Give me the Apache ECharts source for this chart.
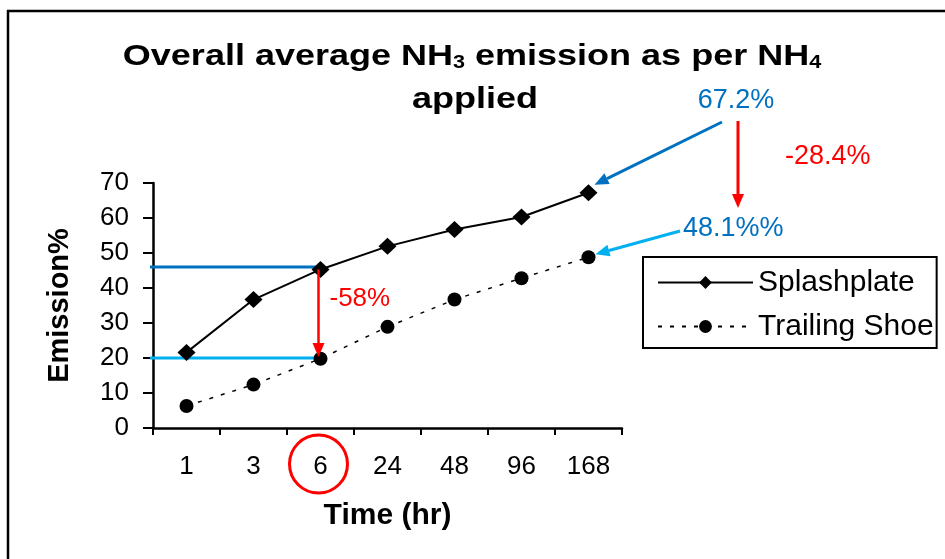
<!DOCTYPE html>
<html>
<head>
<meta charset="utf-8">
<script src="https://cdn.jsdelivr.net/npm/echarts@6/dist/echarts.min.js"></script>
<style>html,body{margin:0;padding:0;background:#fff}#c{width:945px;height:559px}</style>
</head>
<body>
<div id="c"></div>
<script>
// ---- data ----
const categories = ['1', '3', '6', '24', '48', '96', '168'];
const splashplate = [21.6, 36.7, 45.3, 51.9, 56.7, 60.3, 67.2];
const trailingShoe = [6.3, 12.4, 19.8, 28.9, 36.7, 42.8, 48.8];
const yMin = 0, yMax = 70, yStep = 10;
const refSplash = 46;      // dark blue reference level
const refTrailing = 20;    // light blue reference level
const focusIndex = 2;      // the "6" hr category
const labelFocusDiff = '-58%';
const labelSplashEnd = '67.2%';
const labelTrailingEnd = '48.1%%';
const labelEndDiff = '-28.4%';
const titleLine1 = '{b|Overall average NH}{s|3}{b| emission as per NH}{s|4}';
const titleLine2 = 'applied';

const FONT = 'Liberation Sans, Arial, sans-serif';
const chart = echarts.init(document.getElementById('c'));

chart.setOption({
  backgroundColor: '#fff',
  animation: false,
  grid: { left: 153, right: 323, top: 183, bottom: 131 },
  legend: {
    orient: 'vertical',
    left: 643, top: 257,
    padding: [10, 3, 6, 14],
    itemGap: 13,
    itemWidth: 95, itemHeight: 16,
    borderColor: '#000', borderWidth: 2, borderRadius: 0,
    textStyle: { fontFamily: FONT, fontSize: 30, color: '#000', lineHeight: 31 },
    data: ['Splashplate', 'Trailing Shoe']
  },
  xAxis: {
    type: 'category',
    data: categories,
    boundaryGap: true,
    name: 'Time (hr)',
    nameLocation: 'middle',
    nameGap: 73,
    nameTextStyle: { fontFamily: FONT, fontSize: 30, fontWeight: 'bold', color: '#000' },
    axisLine: { lineStyle: { color: '#000', width: 2.5 } },
    axisTick: { show: true, length: 7, lineStyle: { color: '#000', width: 2 } },
    axisLabel: { fontFamily: FONT, fontSize: 26, color: '#000', margin: 26 },
    splitLine: { show: false }
  },
  yAxis: {
    type: 'value',
    min: yMin, max: yMax, interval: yStep,
    name: 'Emission%',
    nameLocation: 'middle',
    nameGap: 79,
    nameRotate: 90,
    nameTextStyle: { fontFamily: FONT, fontSize: 29, fontWeight: 'bold', color: '#000' },
    axisLine: { show: true, lineStyle: { color: '#000', width: 2.5 } },
    axisTick: { show: true, length: 10, lineStyle: { color: '#000', width: 2 } },
    axisLabel: { fontFamily: FONT, fontSize: 26, color: '#000', margin: 24 },
    splitLine: { show: false }
  },
  series: [
    {
      name: 'Splashplate', type: 'line', data: splashplate,
      symbol: 'diamond', symbolSize: [18, 17],
      itemStyle: { color: '#000' },
      lineStyle: { color: '#000', width: 2 },
      z: 3
    },
    {
      name: 'Trailing Shoe', type: 'line', data: trailingShoe,
      symbol: 'circle', symbolSize: 14,
      itemStyle: { color: '#000' },
      lineStyle: { color: '#000', width: 1.5, type: [4, 8] },
      z: 3
    }
  ]
});

function arrow(x1, y1, x2, y2, color, w, headLen, headHalf) {
  const dx = x2 - x1, dy = y2 - y1, L = Math.hypot(dx, dy);
  const ux = dx / L, uy = dy / L, px = -uy, py = ux;
  const bx = x2 - ux * headLen, by = y2 - uy * headLen;
  return [
    { type: 'line', shape: { x1: x1, y1: y1, x2: bx, y2: by }, style: { stroke: color, lineWidth: w }, z: 10 },
    { type: 'polygon', shape: { points: [[x2, y2], [bx + px * headHalf, by + py * headHalf], [bx - px * headHalf, by - py * headHalf]] }, style: { fill: color }, z: 10 }
  ];
}

const toPx = (i, v) => chart.convertToPixel({ gridIndex: 0 }, [i, v]);
const last = categories.length - 1;
const fSplash = toPx(focusIndex, splashplate[focusIndex]);
const fRefS = toPx(focusIndex, refSplash);
const fRefT = toPx(focusIndex, refTrailing);
const eSplash = toPx(last, splashplate[last]);
const eTrail = toPx(last, trailingShoe[last]);
const axisLeft = toPx(0, 0)[0] - 33.5;
const fx = fSplash[0] - 2;

const DARK = '#0070C0', LIGHT = '#00B0F0', RED = '#FF0000';

const graphics = [
  // outer frame (top and left edges)
  { type: 'line', shape: { x1: 7, y1: 11, x2: 945, y2: 11 }, style: { stroke: '#000', lineWidth: 2.5 } },
  { type: 'line', shape: { x1: 8, y1: 10, x2: 8, y2: 559 }, style: { stroke: '#000', lineWidth: 2.5 } },
  // title
  { type: 'text', x: 472, y: 55, scaleX: 1.2,
    style: { text: titleLine1, align: 'center', verticalAlign: 'middle', fill: '#000',
      rich: {
        b: { fontFamily: FONT, fontSize: 30, fontWeight: 'bold', lineHeight: 34, verticalAlign: 'bottom', fill: '#000' },
        s: { fontFamily: FONT, fontSize: 18, fontWeight: 'bold', lineHeight: 2, verticalAlign: 'bottom', fill: '#000' }
      } } },
  { type: 'text', x: 475, y: 100, scaleX: 1.2,
    style: { text: titleLine2, align: 'center', verticalAlign: 'middle', fill: '#000',
      fontFamily: FONT, fontSize: 30, fontWeight: 'bold' } },
  // reference lines at the 6 hr point
  { type: 'line', shape: { x1: axisLeft - 3, y1: fRefS[1], x2: fx, y2: fRefS[1] }, style: { stroke: DARK, lineWidth: 3 }, z: 2 },
  { type: 'line', shape: { x1: axisLeft - 3, y1: fRefT[1], x2: fx, y2: fRefT[1] }, style: { stroke: LIGHT, lineWidth: 3 }, z: 2 },
  ...arrow(fx, fSplash[1], fx, fRefT[1] - 1, RED, 2.5, 14, 6),
  { type: 'text', x: fx + 11, y: 299, style: { text: labelFocusDiff, fill: RED, fontFamily: FONT, fontSize: 26, align: 'left', verticalAlign: 'middle' }, z: 10 },
  // circle around the 6 hr label
  { type: 'circle', shape: { cx: fx, cy: 464, r: 29 }, style: { fill: 'none', stroke: RED, lineWidth: 3 }, z: 10 },
  // end annotations
  { type: 'text', x: 736, y: 101, style: { text: labelSplashEnd, fill: DARK, fontFamily: FONT, fontSize: 27, align: 'center', verticalAlign: 'middle' }, z: 10 },
  ...arrow(722, 122, eSplash[0] + 6, eSplash[1] - 8, DARK, 3, 14, 6),
  ...arrow(738, 121, 738, 208, RED, 3, 14, 6),
  { type: 'text', x: 785, y: 157, style: { text: labelEndDiff, fill: RED, fontFamily: FONT, fontSize: 27, align: 'left', verticalAlign: 'middle' }, z: 10 },
  { type: 'text', x: 683, y: 229, style: { text: labelTrailingEnd, fill: DARK, fontFamily: FONT, fontSize: 27, align: 'left', verticalAlign: 'middle' }, z: 10 },
  ...arrow(680, 231, eTrail[0] + 7, eTrail[1] - 3, LIGHT, 3, 14, 6)
];

chart.setOption({ graphic: graphics });
</script>
</body>
</html>
